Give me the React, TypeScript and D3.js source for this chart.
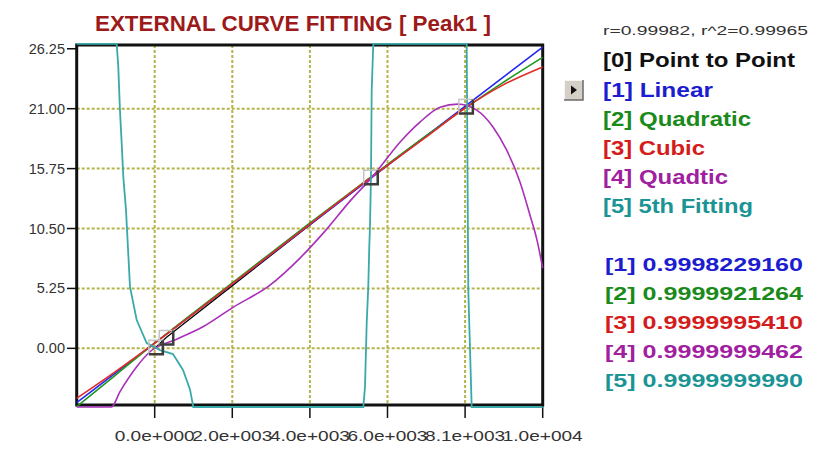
import React from "react";
import * as d3 from "d3";

const title = "EXTERNAL CURVE FITTING [ Peak1 ]";
const statsLabel = "r=0.99982, r^2=0.99965";

const xTickValues = [0, 2015, 4030, 6045, 8060, 10075];
const xTickLabels = ["0.0e+000", "2.0e+003", "4.0e+003", "6.0e+003", "8.1e+003", "1.0e+004"];
const yTickValues = [0, 5.25, 10.5, 15.75, 21, 26.25];
const yTickLabels = ["0.00", "5.25", "10.50", "15.75", "21.00", "26.25"];

// calibration points
const pointX = [30, 300, 5610, 8080];
const pointY = [0.1, 0.95, 15.0, 21.2];

// [1] linear
const linearX = [-2025, 0, 10075];
const linearY = [-4.76, 0.45, 26.4];

// [2] quadratic
const quadX = [-2025, -1000, 0, 2000, 4000, 5610, 7000, 8080, 9000, 10075];
const quadY = [-5.1, -2.3, 0.45, 5.7, 10.9, 15.0, 18.5, 21.1, 23.2, 25.5];

// [3] cubic
const cubicX = [-2025, -1000, 0, 2000, 4000, 5610, 7000, 8080, 9000, 10075];
const cubicY = [-4.38, -2.0, 0.45, 5.6, 10.8, 14.95, 18.4, 21.1, 23.0, 24.66];

// [4] quartic
const quartX = [-2025, -1122, -901, -467, -122, 571, 1254, 2033, 2994, 3773, 4422, 5071, 5668, 6369, 6888, 7408, 7876, 8361, 8784, 9140, 9485, 9745, 9927, 10075];
const quartY = [-5.2, -5.2, -3.8, -1.61, -0.3, 0.8, 1.89, 3.59, 5.54, 7.91, 10.27, 12.9, 15.09, 18.06, 19.82, 21.13, 21.4, 20.87, 19.4, 17.36, 14.58, 11.67, 9.48, 7.03];

// [5] 5th order
const fifthX = [-2025, -987, -945, -901, -857, -815, -745, -641, -467, -208, 138, 475, 735, 917, 1002, 5417, 5461, 5505, 5546, 5572, 5590, 5616, 5635, 5676, 8101, 8143, 8231, 10075];
const fifthY = [27, 27, 24.66, 20.81, 17.98, 15.03, 12.11, 5.39, 2.48, 0.46, -0.15, -0.5, -1.9, -3.6, -5.2, -5.2, -3.36, 2.22, 5.39, 8.9, 10.65, 15.03, 22.62, 27, 27, 5.1, -5.2, -5.2];

const legendLabels = ["[0] Point to Point", "[1] Linear", "[2] Quadratic", "[3] Cubic", "[4] Quadtic", "[5] 5th Fitting"];
const coefLabels = ["[1] 0.9998229160", "[2] 0.9999921264", "[3] 0.9999995410", "[4] 0.9999999462", "[5] 0.9999999990"];

const legendColors = ["#111111", "#1c1cd0", "#1a8a1a", "#d41c1c", "#a020a0", "#1a9494"];
const lineColors = ["#000000", "#2626f0", "#1f961f", "#e42a2a", "#a830b8", "#3aa9a9"];
const legendWidths = [192, 110, 148, 102, 125, 150];
const legendBase = [67, 96.5, 125.5, 154.5, 183.5, 212.5];
const coefBase = [270.5, 300, 329, 358, 386.5];

export default function App() {
  const L = 76.7, R = 542.7, T = 45, B = 405;
  const x = d3.scaleLinear().domain([-2025, 10075]).range([L, R]);
  const y = d3.scaleLinear().domain([-4.965, 26.58]).range([B, T]);
  const cy = (v: number) => Math.max(43.8, Math.min(407, y(v)));

  const mk = (curve: any) =>
    d3.line<[number, number]>().x((d) => x(d[0])).y((d) => cy(d[1])).curve(curve);
  const zip = (xs: number[], ys: number[]) => xs.map((v, i) => [v, ys[i]] as [number, number]);

  const series = [
    { d: zip(pointX, pointY), c: lineColors[0], curve: d3.curveLinear, w: 1.2 },
    { d: zip(linearX, linearY), c: lineColors[1], curve: d3.curveLinear, w: 1.6 },
    { d: zip(quadX, quadY), c: lineColors[2], curve: d3.curveMonotoneX, w: 1.6 },
    { d: zip(cubicX, cubicY), c: lineColors[3], curve: d3.curveMonotoneX, w: 1.6 },
    { d: zip(quartX, quartY), c: lineColors[4], curve: d3.curveMonotoneX, w: 1.6 },
    { d: zip(fifthX, fifthY), c: lineColors[5], curve: d3.curveLinear, w: 1.8 },
  ];

  const font = "'Liberation Sans', Arial, sans-serif";
  const grid = "#b4b44a";

  return (
    <div style={{ position: "fixed", left: 0, top: 0 }}>
      <svg width={816} height={449} style={{ display: "block", background: "#fff" }}>
        <text x={95} y={31} fontFamily={font} fontWeight="bold" fontSize={22} fill="#9c1a1a"
          textLength={396} lengthAdjust="spacingAndGlyphs">{title}</text>

        <rect x={L} y={T} width={R - L} height={B - T} fill="#fff" />
        {xTickValues.slice(0, -1).map((v) => (
          <line key={"gx" + v} x1={x(v)} x2={x(v)} y1={T} y2={B} stroke={grid} strokeWidth={2} strokeDasharray="3,2" />
        ))}
        {yTickValues.slice(0, -1).map((v) => (
          <line key={"gy" + v} x1={L} x2={R} y1={y(v)} y2={y(v)} stroke={grid} strokeWidth={2} strokeDasharray="3,2" />
        ))}
        <rect x={L} y={T} width={R - L} height={B - T} fill="none" stroke="#111" strokeWidth={3} />

        {yTickValues.map((v, i) => (
          <g key={"ty" + v}>
            <line x1={67} x2={L} y1={y(v)} y2={y(v)} stroke="#111" strokeWidth={1.5} />
            <text x={65} y={y(v) + 5} textAnchor="end" fontFamily={font} fontSize={14.5} fill="#333">{yTickLabels[i]}</text>
          </g>
        ))}
        {xTickValues.map((v, i) => (
          <g key={"tx" + v}>
            <line x1={x(v)} x2={x(v)} y1={B} y2={418} stroke="#111" strokeWidth={1.5} />
            <text x={x(v) - 40} y={441} fontFamily={font} fontSize={14.5} fill="#333"
              textLength={80} lengthAdjust="spacingAndGlyphs">{xTickLabels[i]}</text>
          </g>
        ))}

        {series.map((s, i) => (
          <path key={"s" + i} d={mk(s.curve)(s.d) || ""} fill="none" stroke={s.c} strokeWidth={s.w} />
        ))}

        {pointX.map((v, i) => {
          const px = x(v), py = y(pointY[i]), h = 7;
          return (
            <g key={"p" + i}>
              <rect x={px - h} y={py - h} width={2 * h} height={2 * h} fill="none" stroke="#c4c4c4" strokeWidth={1.5} />
              <path d={`M${px - h},${py + h}H${px + h}V${py - h}`} fill="none" stroke="#3c3c3c" strokeWidth={2.5} />
            </g>
          );
        })}

        <text x={603} y={35} fontFamily={font} fontSize={13.5} fill="#333"
          textLength={205} lengthAdjust="spacingAndGlyphs">{statsLabel}</text>
        {legendLabels.map((t, i) => (
          <text key={"l" + i} x={603} y={legendBase[i]} fontFamily={font} fontWeight="bold" fontSize={20}
            fill={legendColors[i]} textLength={legendWidths[i]} lengthAdjust="spacingAndGlyphs">{t}</text>
        ))}
        {coefLabels.map((t, i) => (
          <text key={"c" + i} x={605} y={coefBase[i]} fontFamily={font} fontWeight="bold" fontSize={19}
            fill={legendColors[i + 1]} textLength={198} lengthAdjust="spacingAndGlyphs">{t}</text>
        ))}

        <g>
          <rect x={564} y={80} width={19} height={20} fill="#d4d0c8" />
          <path d="M564,100V80H583" fill="none" stroke="#fff" strokeWidth={1.5} />
          <path d="M564,100H583V80" fill="none" stroke="#6a6a6a" strokeWidth={1.5} />
          <path d="M571,85.5L577,90L571,94.5Z" fill="#111" />
        </g>
      </svg>
    </div>
  );
}
